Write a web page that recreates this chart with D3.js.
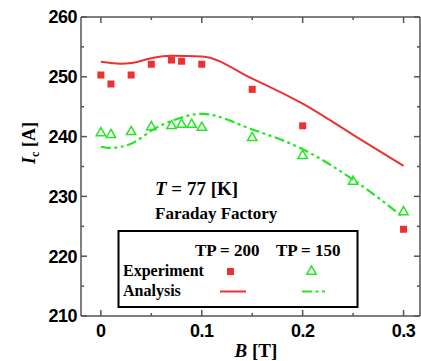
<!DOCTYPE html>
<html>
<head>
<meta charset="utf-8">
<script src="https://cdn.jsdelivr.net/npm/d3@7"></script>
<style>
  body { margin: 0; background: #fff; }
  svg { display: block; }
  .tick-label { font-family: "Liberation Sans", Arial, sans-serif; font-weight: bold; font-size: 18px; letter-spacing: -0.5px; }
  .serif { font-family: "Liberation Serif", "Times New Roman", serif; font-weight: bold; }
</style>
</head>
<body>
<div id="chart"></div>
<script>
// measured data
const expB = [0, 0.01, 0.03, 0.05, 0.07, 0.08, 0.1, 0.15, 0.2, 0.3];
const exp200 = [250.3, 248.8, 250.3, 252.1, 252.8, 252.6, 252.1, 247.9, 241.8, 224.5];

const exp150B = [0, 0.01, 0.03, 0.05, 0.07, 0.08, 0.09, 0.1, 0.15, 0.2, 0.25, 0.3];
const exp150 = [240.6, 240.3, 240.8, 241.6, 241.8, 242.0, 242.0, 241.5, 239.8, 236.8, 232.5, 227.4];

const anaB200 = [0, 0.01, 0.02, 0.03, 0.05, 0.07, 0.1, 0.15, 0.2, 0.25, 0.3];
const ana200 = [252.5, 252.3, 252.2, 252.3, 253.1, 253.5, 253.4, 249.7, 245.5, 240.3, 235.1];

const anaB150 = [0, 0.01, 0.02, 0.03, 0.04, 0.05, 0.07, 0.1, 0.15, 0.2, 0.25, 0.3];
const ana150 = [238.3, 238.1, 238.3, 238.8, 239.8, 241.0, 242.6, 243.8, 241.2, 237.9, 232.8, 226.5];

const xTicks = [0, 0.1, 0.2, 0.3];
const xMinor = [0.05, 0.15, 0.25];
const yTicks = [210, 220, 230, 240, 250, 260];
const yMinor = [215, 225, 235, 245, 255];

const W = 421, H = 361;
const red = "#ee3030", green = "#22e622";

const svg = d3.select("#chart").append("svg")
  .attr("width", W).attr("height", H);

const x = d3.scaleLinear().domain([-0.0197, 0.3163]).range([81, 420]);
const y = d3.scaleLinear().domain([210, 260]).range([316, 17]);

const pL = 81, pR = 420, pT = 17, pB = 316;

// frame
const ax = svg.append("g").attr("stroke", "#555").attr("stroke-width", 1.5).attr("fill", "none");
ax.append("line").attr("x1", pL).attr("x2", pL).attr("y1", pT).attr("y2", pB);
ax.append("line").attr("x1", pR).attr("x2", pR).attr("y1", pT).attr("y2", pB);
ax.append("line").attr("x1", pL).attr("x2", pR).attr("y1", pT).attr("y2", pT);
ax.append("line").attr("x1", pL).attr("x2", pR).attr("y1", pB).attr("y2", pB);

// ticks inward
yTicks.concat(yMinor).forEach(v => {
  const len = yTicks.includes(v) ? 6 : 3;
  ax.append("line").attr("x1", pL).attr("x2", pL + len).attr("y1", y(v)).attr("y2", y(v));
  ax.append("line").attr("x1", pR).attr("x2", pR - len).attr("y1", y(v)).attr("y2", y(v));
});
xTicks.concat(xMinor).forEach(v => {
  const len = xTicks.includes(v) ? 6 : 3;
  ax.append("line").attr("x1", x(v)).attr("x2", x(v)).attr("y1", pT).attr("y2", pT + len);
  ax.append("line").attr("x1", x(v)).attr("x2", x(v)).attr("y1", pB).attr("y2", pB - len);
});

// tick labels
svg.selectAll(".ylab").data(yTicks).enter().append("text")
  .attr("class", "tick-label")
  .attr("x", 77).attr("y", d => y(d)).attr("dy", "0.36em")
  .attr("text-anchor", "end").text(d => d);

svg.selectAll(".xlab").data(xTicks).enter().append("text")
  .attr("class", "tick-label")
  .attr("x", d => x(d)).attr("y", 337)
  .attr("text-anchor", "middle").text(d => d === 0 ? "0" : d3.format(".1f")(d));

// axis titles
const yt = svg.append("text").attr("class", "serif").attr("font-size", 18)
  .attr("transform", "translate(35,143) rotate(-90)").attr("text-anchor", "middle");
yt.append("tspan").attr("font-style", "italic").text("I");
yt.append("tspan").attr("font-size", 12).attr("dy", 4).text("c");
yt.append("tspan").attr("dy", -4).text(" [A]");

const xt = svg.append("text").attr("class", "serif").attr("font-size", 19)
  .attr("x", 256).attr("y", 357).attr("text-anchor", "middle");
xt.append("tspan").attr("font-style", "italic").text("B");
xt.append("tspan").text(" [T]");

// annotations
const tt = svg.append("text").attr("class", "serif").attr("font-size", 19)
  .attr("x", 155).attr("y", 195);
tt.append("tspan").attr("font-style", "italic").text("T");
tt.append("tspan").text(" = 77 [K]");
svg.append("text").attr("class", "serif").attr("font-size", 17)
  .attr("x", 155).attr("y", 219).text("Faraday Factory");

// analysis curves
const line = (bs, vs) => d3.line().curve(d3.curveMonotoneX)
  .x((d, i) => x(bs[i])).y((d, i) => y(vs[i]))(vs);

svg.append("path").attr("d", line(anaB200, ana200))
  .attr("fill", "none").attr("stroke", red).attr("stroke-width", 2);
svg.append("path").attr("d", line(anaB150, ana150))
  .attr("fill", "none").attr("stroke", green).attr("stroke-width", 2.2)
  .attr("stroke-dasharray", "10,3.5,3,3.5,3,3.5");

// experiment points
svg.selectAll(".sq").data(exp200).enter().append("rect")
  .attr("x", (d, i) => x(expB[i]) - 3.5).attr("y", d => y(d) - 3.5)
  .attr("width", 7).attr("height", 7).attr("fill", red);

const tri = d3.symbol(d3.symbolTriangle, 38);
svg.selectAll(".tri").data(exp150).enter().append("path")
  .attr("d", tri)
  .attr("transform", (d, i) => `translate(${x(exp150B[i])},${y(d)})`)
  .attr("fill", "none").attr("stroke", green).attr("stroke-width", 1.5);

// legend
const lg = svg.append("g");
lg.append("rect").attr("x", 118.5).attr("y", 231).attr("width", 239).attr("height", 76)
  .attr("fill", "#fff").attr("stroke", "#000").attr("stroke-width", 2);
lg.append("text").attr("class", "serif").attr("font-size", 17).attr("x", 195).attr("y", 256).text("TP = 200");
lg.append("text").attr("class", "serif").attr("font-size", 17).attr("x", 276).attr("y", 256).text("TP = 150");
lg.append("text").attr("class", "serif").attr("font-size", 16).attr("x", 123).attr("y", 276).text("Experiment");
lg.append("text").attr("class", "serif").attr("font-size", 16).attr("x", 123).attr("y", 296).text("Analysis");
lg.append("rect").attr("x", 227).attr("y", 268).attr("width", 7).attr("height", 7).attr("fill", red);
lg.append("path").attr("d", tri).attr("transform", "translate(311.5,271.5)")
  .attr("fill", "none").attr("stroke", green).attr("stroke-width", 1.5);
lg.append("line").attr("x1", 220).attr("x2", 246).attr("y1", 291.5).attr("y2", 291.5)
  .attr("stroke", red).attr("stroke-width", 2);
lg.append("line").attr("x1", 302).attr("x2", 328).attr("y1", 291.5).attr("y2", 291.5)
  .attr("stroke", green).attr("stroke-width", 2.2).attr("stroke-dasharray", "10,3.5,3,3.5,3,3.5");
</script>
</body>
</html>
